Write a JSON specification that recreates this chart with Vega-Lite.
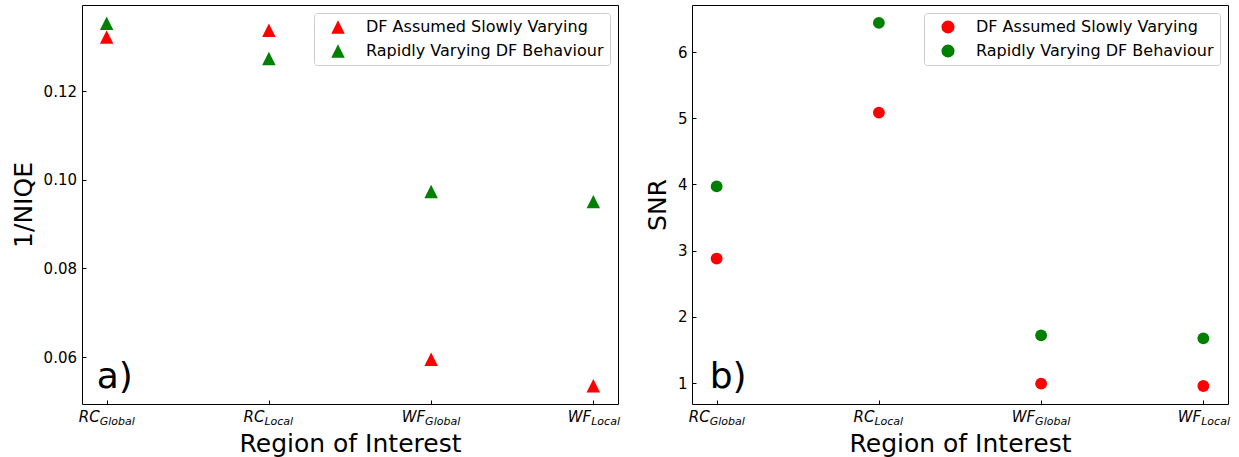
{
  "$schema": "https://vega.github.io/schema/vega-lite/v6.json",
  "padding": {"left": 10, "top": 4, "right": 5, "bottom": 5},
  "background": "white",
  "spacing": 74,
  "bounds": "flush",
  "datasets": {
    "d": [
      {"region": "RC_Global", "series": "DF Assumed Slowly Varying", "niqe": 0.1323, "snr": 2.88},
      {"region": "RC_Local", "series": "DF Assumed Slowly Varying", "niqe": 0.1338, "snr": 5.085},
      {"region": "WF_Global", "series": "DF Assumed Slowly Varying", "niqe": 0.0595, "snr": 0.99},
      {"region": "WF_Local", "series": "DF Assumed Slowly Varying", "niqe": 0.0535, "snr": 0.955},
      {"region": "RC_Global", "series": "Rapidly Varying DF Behaviour", "niqe": 0.1354, "snr": 3.97},
      {"region": "RC_Local", "series": "Rapidly Varying DF Behaviour", "niqe": 0.1274, "snr": 6.44},
      {"region": "WF_Global", "series": "Rapidly Varying DF Behaviour", "niqe": 0.0974, "snr": 1.72},
      {"region": "WF_Local", "series": "Rapidly Varying DF Behaviour", "niqe": 0.0951, "snr": 1.675}
    ]
  },
  "config": {
    "font": "DejaVu Sans",
    "view": {"stroke": "#000000", "strokeWidth": 1},
    "axis": {
      "domain": false,
      "grid": false,
      "labelFont": "DejaVu Sans",
      "labelFontSize": 15,
      "labelColor": "#000000",
      "tickColor": "#000000",
      "tickWidth": 1,
      "tickSize": -4,
      "titleFont": "DejaVu Sans",
      "titleFontSize": 25,
      "titleFontWeight": "normal",
      "titleColor": "#000000",
      "labelOverlap": false,
      "labelFlush": false
    },
    "legend": {
      "orient": "top-right",
      "offset": 8,
      "title": null,
      "labelFont": "DejaVu Sans",
      "labelFontSize": 16,
      "labelColor": "#000000",
      "labelLimit": 0,
      "strokeColor": "#cccccc",
      "fillColor": "rgba(255,255,255,0.8)",
      "cornerRadius": 3,
      "padding": 6,
      "rowPadding": 8,
      "labelOffset": 20,
      "symbolOffset": 10,
      "symbolStrokeWidth": 0,
      "symbolOpacity": 1
    }
  },
  "resolve": {"scale": {"color": "independent"}, "legend": {"color": "independent"}},
  "hconcat": [
    {
      "width": 536,
      "height": 399,
      "resolve": {"scale": {"x": "independent"}, "axis": {"x": "independent"}},
      "layer": [
        {
          "data": {"name": "d"},
          "mark": {"type": "point", "shape": "M0,-1L-1,1L1,1Z", "filled": true, "size": 182, "opacity": 1},
          "encoding": {
            "x": {
              "field": "region", "type": "nominal",
              "scale": {"type": "point", "domain": ["RC_Global", "RC_Local", "WF_Global", "WF_Local"], "padding": 0.152},
              "axis": {
                "orient": "bottom",
                "labelExpr": "split(datum.label, '_')[0]",
                "labelAlign": "right",
                "labelAngle": 0,
                "labelFontStyle": "italic",
                "labelPadding": 9,
                "labelOffset": {"condition": [
                  {"test": "datum.value == 'RC_Global'", "value": -7.5},
                  {"test": "datum.value == 'RC_Local'", "value": -5},
                  {"test": "datum.value == 'WF_Global'", "value": -6.5}
                ], "value": -2.6},
                "title": "Region of Interest",
                "titlePadding": 7
              }
            },
            "y": {
              "field": "niqe", "type": "quantitative",
              "scale": {"domain": [0.0494, 0.1395], "nice": false, "zero": false},
              "axis": {"values": [0.06, 0.08, 0.10, 0.12], "format": ".2f", "title": "1/NIQE", "labelPadding": 9.5, "titlePadding": 7}
            },
            "color": {
              "field": "series", "type": "nominal",
              "scale": {"domain": ["DF Assumed Slowly Varying", "Rapidly Varying DF Behaviour"], "range": ["#ff0000", "#008000"]},
              "legend": {"symbolType": "M0,-1L-1,1L1,1Z", "symbolSize": 182}
            }
          }
        },
        {
          "data": {"values": [{}]},
          "mark": {"type": "text", "text": "a)", "fontSize": 36, "font": "DejaVu Sans", "align": "left", "baseline": "alphabetic", "dx": -10, "color": "#000000"},
          "encoding": {
            "x": {
              "datum": "RC_Global", "type": "nominal",
              "scale": {"type": "point", "domain": ["RC_Global", "RC_Local", "WF_Global", "WF_Local"], "padding": 0.152},
              "axis": {
                "orient": "bottom",
                "labelExpr": "split(datum.label, '_')[1]",
                "labelAlign": "left",
                "labelAngle": 0,
                "labelFontStyle": "italic",
                "labelFontSize": 11,
                "ticks": false,
                "labelPadding": 11.8,
                "labelOffset": {"condition": [
                  {"test": "datum.value == 'RC_Global'", "value": -7.5},
                  {"test": "datum.value == 'RC_Local'", "value": -5},
                  {"test": "datum.value == 'WF_Global'", "value": -6.5}
                ], "value": -2.6},
                "title": null
              }
            },
            "y": {"datum": 0.053, "type": "quantitative"}
          }
        }
      ]
    },
    {
      "width": 536,
      "height": 399,
      "resolve": {"scale": {"x": "independent"}, "axis": {"x": "independent"}},
      "layer": [
        {
          "data": {"name": "d"},
          "mark": {"type": "point", "shape": "circle", "filled": true, "size": 140, "opacity": 1},
          "encoding": {
            "x": {
              "field": "region", "type": "nominal",
              "scale": {"type": "point", "domain": ["RC_Global", "RC_Local", "WF_Global", "WF_Local"], "padding": 0.152},
              "axis": {
                "orient": "bottom",
                "labelExpr": "split(datum.label, '_')[0]",
                "labelAlign": "right",
                "labelAngle": 0,
                "labelFontStyle": "italic",
                "labelPadding": 9,
                "labelOffset": {"condition": [
                  {"test": "datum.value == 'RC_Global'", "value": -7.5},
                  {"test": "datum.value == 'RC_Local'", "value": -5},
                  {"test": "datum.value == 'WF_Global'", "value": -6.5}
                ], "value": -2.6},
                "title": "Region of Interest",
                "titlePadding": 7
              }
            },
            "y": {
              "field": "snr", "type": "quantitative",
              "scale": {"domain": [0.683, 6.71], "nice": false, "zero": false},
              "axis": {"values": [1, 2, 3, 4, 5, 6], "format": "d", "title": "SNR", "labelPadding": 9, "titlePadding": 7}
            },
            "color": {
              "field": "series", "type": "nominal",
              "scale": {"domain": ["DF Assumed Slowly Varying", "Rapidly Varying DF Behaviour"], "range": ["#ff0000", "#008000"]},
              "legend": {"symbolType": "circle", "symbolSize": 170}
            }
          }
        },
        {
          "data": {"values": [{}]},
          "mark": {"type": "text", "text": "b)", "fontSize": 36, "font": "DejaVu Sans", "align": "left", "baseline": "alphabetic", "dx": -7, "color": "#000000"},
          "encoding": {
            "x": {
              "datum": "RC_Global", "type": "nominal",
              "scale": {"type": "point", "domain": ["RC_Global", "RC_Local", "WF_Global", "WF_Local"], "padding": 0.152},
              "axis": {
                "orient": "bottom",
                "labelExpr": "split(datum.label, '_')[1]",
                "labelAlign": "left",
                "labelAngle": 0,
                "labelFontStyle": "italic",
                "labelFontSize": 11,
                "ticks": false,
                "labelPadding": 11.8,
                "labelOffset": {"condition": [
                  {"test": "datum.value == 'RC_Global'", "value": -7.5},
                  {"test": "datum.value == 'RC_Local'", "value": -5},
                  {"test": "datum.value == 'WF_Global'", "value": -6.5}
                ], "value": -2.6},
                "title": null
              }
            },
            "y": {"datum": 0.9245, "type": "quantitative"}
          }
        }
      ]
    }
  ]
}
